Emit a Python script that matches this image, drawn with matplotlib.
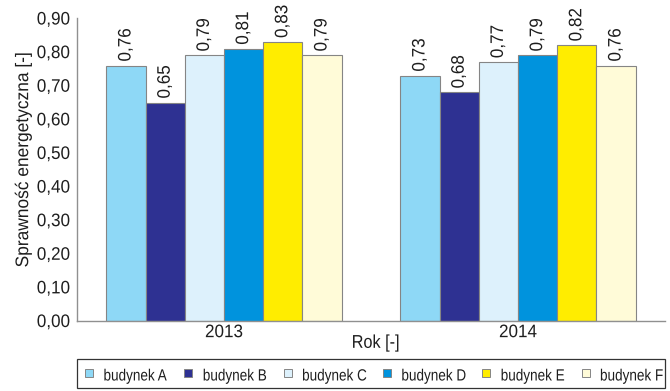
import matplotlib
matplotlib.use("Agg")
import matplotlib.pyplot as plt
import numpy as np
from matplotlib.patheffects import AbstractPathEffect
from matplotlib.transforms import Affine2D
from matplotlib.patches import Rectangle

plt.rcParams['font.family'] = ['Liberation Sans', 'DejaVu Sans']


class Stretch(AbstractPathEffect):
    """Stretch glyphs vertically (in the text's own frame) about the baseline,
    giving a condensed look: layout width stays that of the smaller font."""
    def __init__(self, sy=1.15):
        super().__init__()
        self.sy = sy

    def draw_path(self, renderer, gc, tpath, affine, rgbFace=None):
        tr = Affine2D().scale(1, self.sy) + affine
        renderer.draw_path(gc, tpath, tr, rgbFace)


years = ["2013", "2014"]
buildings = ["budynek A", "budynek B", "budynek C", "budynek D", "budynek E", "budynek F"]
values = {
    "budynek A": [0.76, 0.73],
    "budynek B": [0.65, 0.68],
    "budynek C": [0.79, 0.77],
    "budynek D": [0.81, 0.79],
    "budynek E": [0.83, 0.82],
    "budynek F": [0.79, 0.76],
}
colors = ["#8ED8F6", "#2E3192", "#DDF1FC", "#0093DD", "#FFED00", "#FFFBD8"]
yticks = [0.0, 0.1, 0.2, 0.3, 0.4, 0.5, 0.6, 0.7, 0.8, 0.9]

W, H = 670, 391
TXT = "#1e1e1e"
FS_NUM, SY_NUM = 12.3, 1.06
FS_YLAB, SY_YLAB = 12.5, 1.05
FS_XLAB, SY_XLAB = 11.7, 1.14
FS_LEG, SY_LEG = 9.75, 1.2

fig = plt.figure(figsize=(W/100, H/100), dpi=100)
ax = fig.add_axes([77/W, 1-321/H, (665-77)/W, (321-18.5)/H])

x = np.arange(len(years))
w = 0.8/len(buildings)
for i, b in enumerate(buildings):
    pos = x - 0.4 + w/2 + i*w
    ax.bar(pos, values[b], width=w, color=colors[i], edgecolor="#858585",
           linewidth=0.8, label=b)
    for xp, v in zip(pos, values[b]):
        t = ax.text(xp, v + 0.012, f"{v:.2f}".replace(".", ","), rotation=90,
                    ha="center", va="bottom", fontsize=FS_NUM, color=TXT)
        t.set_path_effects([Stretch(SY_NUM)])

ax.set_xlim(-0.5, 1.5)
ax.set_ylim(0, 0.9)
ax.set_yticks(yticks)
ax.set_yticklabels([f"{t:.2f}".replace(".", ",") for t in yticks], fontsize=FS_NUM, color=TXT)
ax.set_xticks(x)
ax.set_xticklabels(years, fontsize=FS_NUM, color=TXT)
ax.tick_params(length=0)
ax.tick_params(axis="y", pad=5)
ax.tick_params(axis="x", pad=3)
for lab in ax.get_yticklabels() + ax.get_xticklabels():
    lab.set_path_effects([Stretch(SY_NUM)])
for s in ["top", "right"]:
    ax.spines[s].set_visible(False)
for s in ["left", "bottom"]:
    ax.spines[s].set_color("#909090")
    ax.spines[s].set_linewidth(1.0)

ax.set_ylabel("Sprawność energetyczna [-]", fontsize=FS_YLAB, color=TXT)
ax.yaxis.set_label_coords(-0.078, 0.534)
ax.yaxis.label.set_path_effects([Stretch(SY_YLAB)])
ax.set_xlabel("Rok [-]", fontsize=FS_XLAB, color=TXT)
ax.xaxis.set_label_coords(0.508, -0.049)
ax.xaxis.label.set_path_effects([Stretch(SY_XLAB)])

# legend (box + entries)
fig.patches.append(Rectangle((77/W, 1-388/H), (665-77)/W, (388-359)/H,
                             transform=fig.transFigure, facecolor="white",
                             edgecolor="#333333", linewidth=0.9))
for i, b in enumerate(buildings):
    hx = 85 + i*99.3
    fig.patches.append(Rectangle((hx/W, 1-377/H), 8/W, 8/H, transform=fig.transFigure,
                                 facecolor=colors[i], edgecolor="#858585", linewidth=0.7))
    t = fig.text((hx+18.5)/W, 1-380.5/H, b, fontsize=FS_LEG, color=TXT,
                 ha="left", va="baseline")
    t.set_path_effects([Stretch(SY_LEG)])

fig.savefig("out.png", dpi=100)
